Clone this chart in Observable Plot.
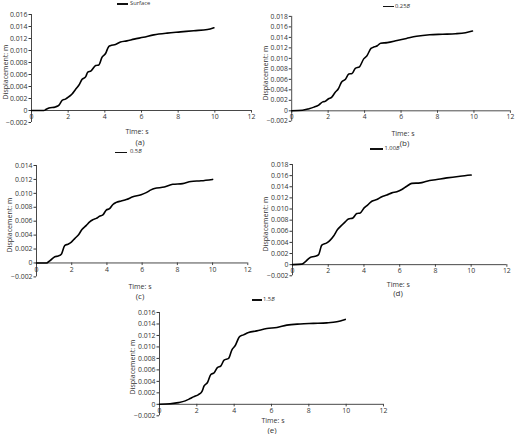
<!DOCTYPE html>
<html>
<head>
<meta charset="utf-8">
<script src="https://cdn.jsdelivr.net/npm/d3@7"></script>
<script src="https://cdn.jsdelivr.net/npm/@observablehq/plot@0.6"></script>
<style>
  html, body { margin: 0; padding: 0; background: #fff; }
  #root { position: relative; width: 520px; height: 434px; overflow: hidden; font-family: "Open Sans", sans-serif; color: #333; }
  .panel { position: absolute; }
  .lab { position: absolute; transform: translate(-50%, -50%); white-space: nowrap; line-height: 1; }
  .ylab { position: absolute; transform: translate(-50%, -50%) rotate(-90deg); white-space: nowrap; line-height: 1; font-size: 7px; }
  .leg-line { position: absolute; background: #111; }
  .leg-text { position: absolute; transform: translateY(-50%); white-space: nowrap; line-height: 1; font-size: 5.8px; }
</style>
</head>
<body>
<div id="root"></div>
<script>
// ---------- data (time s, displacement m) ----------
const seriesA = [[0,0],[0.67,0],[0.8,0.0002],[0.95,0.0004],[1.3,0.0006],[1.5,0.0009],[1.67,0.0017],[1.85,0.0019],[2.04,0.0023],[2.2,0.0027],[2.4,0.0035],[2.58,0.0042],[2.76,0.0052],[2.95,0.0056],[3.07,0.0064],[3.25,0.0066],[3.5,0.0075],[3.67,0.0076],[3.85,0.0089],[4.04,0.0095],[4.2,0.0106],[4.3,0.0108],[4.58,0.011],[4.85,0.0114],[5.2,0.0116],[5.6,0.0119],[6.1,0.0122],[6.67,0.0126],[7.4,0.0129],[8.13,0.0131],[8.85,0.0133],[9.6,0.0135],[9.95,0.0138]];
const seriesB = [[0,0],[0.59,0.0001],[0.95,0.0004],[1.22,0.0007],[1.48,0.0011],[1.7,0.0017],[1.84,0.0018],[2.02,0.0023],[2.2,0.0026],[2.38,0.0035],[2.56,0.0042],[2.74,0.0055],[2.95,0.006],[3.13,0.007],[3.31,0.0071],[3.49,0.0081],[3.72,0.0084],[3.95,0.0099],[4.13,0.0105],[4.35,0.0119],[4.53,0.0122],[4.7,0.0124],[4.88,0.0129],[5.24,0.013],[5.78,0.0134],[6.3,0.0138],[6.85,0.0142],[7.57,0.0145],[8.28,0.0146],[9.0,0.0147],[9.54,0.0149],[9.92,0.0152]];
const seriesC = [[0,0],[0.57,0],[0.75,0.0003],[1.04,0.0009],[1.23,0.001],[1.42,0.0013],[1.6,0.0025],[1.79,0.0027],[1.98,0.003],[2.17,0.0035],[2.4,0.0041],[2.58,0.0048],[2.83,0.0054],[3.02,0.0059],[3.2,0.0062],[3.4,0.0064],[3.58,0.0067],[3.77,0.0069],[3.96,0.0076],[4.15,0.0078],[4.34,0.0084],[4.53,0.0087],[4.81,0.0089],[5.1,0.0091],[5.47,0.0095],[5.94,0.0098],[6.23,0.0101],[6.5,0.0105],[6.7,0.0107],[7.26,0.0109],[7.74,0.0113],[8.3,0.0114],[8.77,0.0117],[9.34,0.0118],[10,0.012]];
const seriesD = [[0,0],[0.52,0.0001],[0.71,0.0005],[0.99,0.0013],[1.27,0.0015],[1.46,0.0018],[1.64,0.0035],[1.92,0.0039],[2.11,0.0044],[2.29,0.0051],[2.52,0.0063],[2.76,0.0071],[2.95,0.0077],[3.13,0.0082],[3.38,0.0084],[3.6,0.0092],[3.79,0.0093],[4.01,0.0102],[4.2,0.0107],[4.44,0.0114],[4.72,0.0117],[5.0,0.0122],[5.28,0.0125],[5.56,0.0129],[5.84,0.0131],[6.12,0.0135],[6.4,0.0141],[6.68,0.0146],[7.15,0.0147],[7.52,0.015],[8.08,0.0153],[8.64,0.0156],[9.38,0.0159],[10,0.0161]];
const seriesE = [[0,0],[0.57,0.0001],[1.02,0.0003],[1.38,0.0006],[1.64,0.001],[1.82,0.0013],[2.09,0.0017],[2.27,0.0022],[2.39,0.0032],[2.57,0.0038],[2.75,0.0052],[2.93,0.0055],[3.1,0.0064],[3.29,0.0067],[3.46,0.0077],[3.7,0.008],[3.88,0.0095],[4.05,0.0102],[4.29,0.0118],[4.5,0.0121],[4.77,0.0125],[5.21,0.0128],[5.75,0.0132],[6.29,0.0134],[6.82,0.0138],[7.54,0.014],[8.25,0.0141],[8.96,0.0142],[9.5,0.0144],[9.95,0.0148]];

const legendLabels = ["Surface", "0.25<i>B</i>", "0.5<i>B</i>", "1.00<i>B</i>", "1.5<i>B</i>"];
const captions = ["(a)", "(b)", "(c)", "(d)", "(e)"];
const xTitle = "Time: s";
const yTitle = "Displacement: m";
const xTicks = [0, 2, 4, 6, 8, 10, 12];
const yTicks16 = [-0.002, 0, 0.002, 0.004, 0.006, 0.008, 0.010, 0.012, 0.014, 0.016];
const yTicks18 = [-0.002, 0, 0.002, 0.004, 0.006, 0.008, 0.010, 0.012, 0.014, 0.016, 0.018];
const yTicks14 = [-0.002, 0, 0.002, 0.004, 0.006, 0.008, 0.010, 0.012, 0.014];

// ---------- layout (frame pixel boxes in the 520x434 page) ----------
const panels = [
  {data: seriesA, ticks: yTicks16, fl: 31,    fr: 251,   ft: 14,    fb: 122,   yo: 26.5, xl: [137, 131],   cap: [140, 141.5], leg: {y: 3.8,   x1: 117,   x2: 128,   tx: 130}},
  {data: seriesB, ticks: yTicks18, fl: 292.3, fr: 516,   ft: 15.7,  fb: 123,   yo: 27, xl: [403, 132.7], cap: [404.5, 142.5], leg: {y: 6.7, x1: 383,   x2: 393.5, tx: 395}},
  {data: seriesC, ticks: yTicks14, fl: 35.7,  fr: 247,   ft: 165.3, fb: 276.7, yo: 27, xl: [140, 285.7], cap: [140, 296],   leg: {y: 152.3, x1: 115,   x2: 127,   tx: 130}},
  {data: seriesD, ticks: yTicks18, fl: 292.3, fr: 506.7, ft: 164,   fb: 275.3, yo: 27, xl: [398.3, 283.7], cap: [398, 293], leg: {y: 148.8, x1: 370,   x2: 383,   tx: 384.5}},
  {data: seriesE, ticks: yTicks16, fl: 159.3, fr: 383.3, ft: 311.7, fb: 415,   yo: 27, xl: [273, 420],   cap: [272, 429.8], leg: {y: 300,   x1: 251.7, x2: 261.7, tx: 263}}
];

const root = document.getElementById("root");
const ML = 36, MR = 10, MT = 4, MB = 12;
const fmt = d => (Math.abs(d) < 1e-12 ? "0" : d3.format(".3f")(d));
const axisColor = "#333";
const tickFont = 6.9;

panels.forEach((p, i) => {
  const yMin = p.ticks[0], yMax = p.ticks[p.ticks.length - 1];
  const fw = p.fr - p.fl, fh = p.fb - p.ft;
  const tickLenData = 2.6 * (yMax - yMin) / fh;

  const chart = Plot.plot({
    width: fw + ML + MR,
    height: fh + MT + MB,
    marginLeft: ML, marginRight: MR, marginTop: MT, marginBottom: MB,
    x: {domain: [0, 12], axis: null},
    y: {domain: [yMin, yMax]},
    style: {fontFamily: "'Open Sans', sans-serif", fontSize: tickFont + "px", color: axisColor, background: "transparent", overflow: "visible"},
    marks: [
      Plot.axisY(p.ticks, {tickSize: 2.5, tickPadding: 1.5, tickFormat: fmt, label: null, fontSize: tickFont}),
      Plot.ruleX([0], {y1: yMin, y2: yMax, stroke: axisColor, strokeWidth: 0.9}),
      Plot.ruleY([0], {x1: 0, x2: 12, stroke: axisColor, strokeWidth: 0.9}),
      Plot.ruleX(xTicks, {x: d => d, y1: 0, y2: -tickLenData, stroke: axisColor, strokeWidth: 0.9}),
      Plot.text(xTicks, {x: d => d, y: 0, dy: 6.6, text: d => String(d), fontSize: tickFont, fill: axisColor}),
      Plot.line(p.data, {x: d => d[0], y: d => d[1], stroke: "#000", strokeWidth: 1.6, curve: "monotone-x"})
    ]
  });

  const wrap = document.createElement("div");
  wrap.className = "panel";
  wrap.style.left = (p.fl - ML) + "px";
  wrap.style.top = (p.ft - MT) + "px";
  wrap.appendChild(chart);
  root.appendChild(wrap);

  const yl = document.createElement("div");
  yl.className = "ylab";
  yl.style.left = (p.fl - p.yo) + "px";
  yl.style.top = ((p.ft + p.fb) / 2 + 4) + "px";
  yl.textContent = yTitle;
  root.appendChild(yl);

  const xl = document.createElement("div");
  xl.className = "lab";
  xl.style.left = p.xl[0] + "px";
  xl.style.top = p.xl[1] + "px";
  xl.style.fontSize = "7px";
  xl.textContent = xTitle;
  root.appendChild(xl);

  const cap = document.createElement("div");
  cap.className = "lab";
  cap.style.left = p.cap[0] + "px";
  cap.style.top = p.cap[1] + "px";
  cap.style.fontSize = "8px";
  cap.textContent = captions[i];
  root.appendChild(cap);

  const ll = document.createElement("div");
  ll.className = "leg-line";
  ll.style.left = p.leg.x1 + "px";
  ll.style.width = (p.leg.x2 - p.leg.x1) + "px";
  ll.style.top = (p.leg.y - 0.75) + "px";
  ll.style.height = "1.5px";
  root.appendChild(ll);
  const lt = document.createElement("div");
  lt.className = "leg-text";
  lt.style.left = p.leg.tx + "px";
  lt.style.top = p.leg.y + "px";
  lt.innerHTML = legendLabels[i];
  root.appendChild(lt);
});
</script>
</body>
</html>
